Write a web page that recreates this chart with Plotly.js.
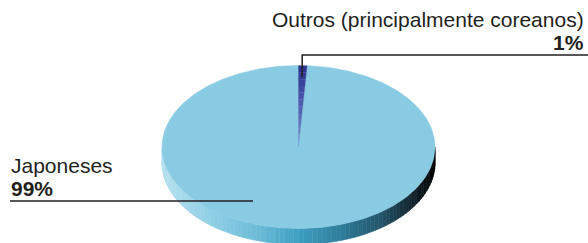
<!DOCTYPE html>
<html>
<head>
<meta charset="utf-8">
<script src="https://cdn.plot.ly/plotly-3.0.1.min.js"></script>
<style>html,body{margin:0;padding:0;background:#fff}#chart{width:588px;height:243px}</style>
</head>
<body>
<div id="chart"></div>
<script>
// ---- data ----
const categories = ["Outros (principalmente coreanos)", "Japoneses"];
const values = [1, 99];
const pctLabels = ["1%", "99%"];

// ---- geometry / style ----
const W = 588, H = 243;
const cx = 298.5, cy = 147, rx = 136.5, ry = 81.5, depth = 16;
const topColors = ["#2c3592", "#89cbe3"];
const sideStops = [[0, [181,224,238]], [0.15, [150,211,232]], [0.35, [108,188,216]], [0.5, [62,159,193]],
                   [0.65, [47,126,156]], [0.8, [36,86,107]], [0.92, [19,35,44]], [1, [0,0,0]]];

function pt(tDeg, f) {
  const t = tDeg * Math.PI / 180;
  return [cx + rx * f * Math.sin(t), cy - ry * f * Math.cos(t)];
}
function sideColor(x) {
  const u = Math.min(1, Math.max(0, (x - (cx - rx)) / (2 * rx)));
  for (let i = 1; i < sideStops.length; i++) {
    if (u <= sideStops[i][0]) {
      const [u0, c0] = sideStops[i - 1], [u1, c1] = sideStops[i];
      const k = (u - u0) / (u1 - u0);
      const c = c0.map((v, j) => Math.round(v + (c1[j] - v) * k));
      return `rgb(${c[0]},${c[1]},${c[2]})`;
    }
  }
  return "#000";
}
function mix(a, b, k) {
  const pa = [parseInt(a.slice(1,3),16), parseInt(a.slice(3,5),16), parseInt(a.slice(5,7),16)];
  const pb = [parseInt(b.slice(1,3),16), parseInt(b.slice(3,5),16), parseInt(b.slice(5,7),16)];
  const c = pa.map((v, j) => Math.round(v + (pb[j] - v) * k));
  return `rgb(${c[0]},${c[1]},${c[2]})`;
}

const traces = [];
// side (rim) strips on the visible lower half
const step = 2;
for (let t = 90; t < 270; t += step) {
  const a = pt(t, 1), b = pt(t + step, 1);
  const col = sideColor((a[0] + b[0]) / 2);
  traces.push({
    type: "scatter", mode: "lines", fill: "toself", fillcolor: col,
    line: {color: col, width: 0.6},
    x: [a[0], b[0], b[0], a[0], a[0]],
    y: [a[1], b[1], b[1] + depth, a[1] + depth, a[1]],
    hoverinfo: "skip", showlegend: false
  });
}

// top face slices (clockwise from 12 o'clock)
const total = values.reduce((s, v) => s + v, 0);
let start = 0;
const slices = [];
values.forEach((v, i) => {
  const span = v / total * 360;
  slices.push({start, end: start + span});
  start += span;
});
// big slice first
[1, 0].forEach(i => {
  const s = slices[i];
  if (i === 1) {
    const xs = [cx], ys = [cy];
    for (let t = s.start; t <= s.end + 1e-9; t += Math.min(1, (s.end - s.start) / 4)) {
      const p = pt(t, 1); xs.push(p[0]); ys.push(p[1]);
    }
    const pe = pt(s.end, 1); xs.push(pe[0]); ys.push(pe[1]);
    xs.push(cx); ys.push(cy);
    traces.push({type: "scatter", mode: "lines", fill: "toself", fillcolor: topColors[1],
      line: {color: topColors[1], width: 0.5}, x: xs, y: ys, hoverinfo: "skip", showlegend: false});
  } else {
    // thin wedge drawn as bands fading toward the centre
    const n = 12;
    for (let k = 0; k < n; k++) {
      const f0 = 1 - k / n, f1 = 1 - (k + 1) / n;
      const a0 = pt(s.start, f0), a1 = pt(s.end, f0), b1 = pt(s.end, f1), b0 = pt(s.start, f1);
      const col = mix(topColors[0], "#7a92d0", k / n);
      traces.push({type: "scatter", mode: "lines", fill: "toself", fillcolor: col,
        line: {color: col, width: 0.3},
        x: [a0[0], a1[0], b1[0], b0[0], a0[0]], y: [a0[1], a1[1], b1[1], b0[1], a0[1]],
        hoverinfo: "skip", showlegend: false});
    }
  }
});

// leader lines
const outAnchor = pt((slices[0].start + slices[0].end) / 2, 0.86);
const shapes = [
  {type: "path", xref: "x", yref: "y",
   path: `M${outAnchor[0]},${outAnchor[1]} L${outAnchor[0]},55 L${W},55`,
   line: {color: "#231f20", width: 1.5}},
  {type: "line", xref: "x", yref: "y", x0: 10, x1: 253, y0: 201, y1: 201,
   line: {color: "#231f20", width: 1.5}}
];

const font = {family: "Liberation Sans, Arial, sans-serif", size: 21, color: "#231f20"};
const annotations = [
  {x: 586, y: 19, xref: "x", yref: "y", xanchor: "right", yanchor: "middle", showarrow: false,
   text: categories[0], font},
  {x: 586, y: 42, xref: "x", yref: "y", xanchor: "right", yanchor: "middle", showarrow: false,
   text: "<b>" + pctLabels[0] + "</b>", font},
  {x: 9, y: 165, xref: "x", yref: "y", xanchor: "left", yanchor: "middle", showarrow: false,
   text: categories[1], font},
  {x: 9, y: 188, xref: "x", yref: "y", xanchor: "left", yanchor: "middle", showarrow: false,
   text: "<b>" + pctLabels[1] + "</b>", font}
];

Plotly.newPlot("chart", traces, {
  width: W, height: H, margin: {l: 0, r: 0, t: 0, b: 0},
  paper_bgcolor: "#fff", plot_bgcolor: "#fff",
  xaxis: {range: [0, W], visible: false, fixedrange: true},
  yaxis: {range: [H, 0], visible: false, fixedrange: true},
  shapes, annotations, showlegend: false
}, {displayModeBar: false, staticPlot: true});
</script>
</body>
</html>
